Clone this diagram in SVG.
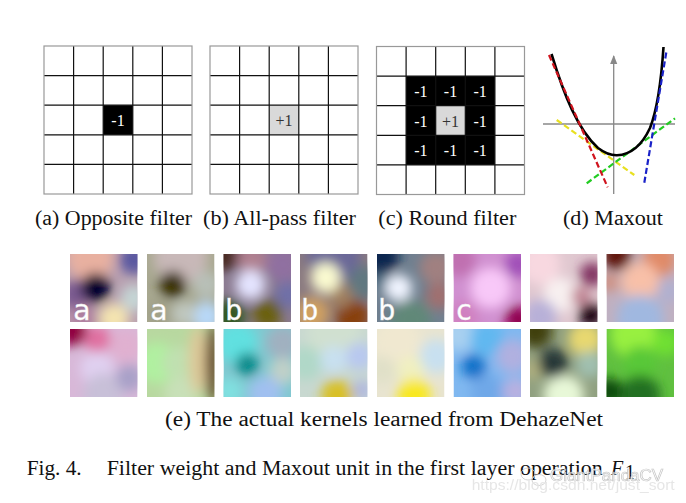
<svg xmlns="http://www.w3.org/2000/svg" xmlns:xlink="http://www.w3.org/1999/xlink" width="686" height="503" viewBox="0 0 686 503">
<style>
.cap{font-family:"Liberation Serif","Times New Roman",serif;font-size:20px;fill:#111}
.cell{font-family:"Liberation Serif","Times New Roman",serif;font-size:16px;text-anchor:middle}
.w{fill:#fff}
.k{fill:#333}
.gl{stroke:#111;stroke-width:1.2;fill:none}
.gb{stroke:#999;stroke-width:1.2;fill:none}
.ax{stroke:#888;stroke-width:1.3;fill:none}
.ds{fill:none;stroke-width:2.2;stroke-dasharray:6 3}
.lt{font-family:"DejaVu Sans Mono",monospace;font-size:29px;fill:#fff;stroke:#e8e8e8;stroke-width:0.3}
.wm{font-family:"Liberation Sans",Arial,sans-serif;fill:#fff;stroke:#bbb;stroke-width:0.7}
</style>
<defs>
<filter id="bl" filterUnits="userSpaceOnUse" x="-60" y="-60" width="220" height="220"><feGaussianBlur stdDeviation="8.5"/></filter>
<g id="grid">
<path class="gl" d="M29.6 0V148M59.2 0V148M88.8 0V148M118.4 0V148M0 29.6H148M0 59.2H148M0 88.8H148M0 118.4H148"/>
<rect class="gb" x="0" y="0" width="148" height="148"/>
</g>
<marker id="ar" viewBox="0 0 10 10" refX="9" refY="5" markerWidth="7" markerHeight="7" orient="auto"><path d="M0 1L10 5L0 9z" fill="#888"/></marker>
</defs>
<rect width="686" height="503" fill="#fff"/>

<g id="opposite-filter" transform="translate(44,46)">
<rect x="0" y="0" width="148" height="148" fill="#fff"/>
<rect x="59.2" y="59.2" width="29.6" height="29.6" fill="#000"/>
<use href="#grid"/>
<text class="cell w" x="74" y="80">-1</text>
</g>

<g id="allpass-filter" transform="translate(210,46)">
<rect x="0" y="0" width="148" height="148" fill="#fff"/>
<rect x="59.2" y="59.2" width="29.6" height="29.6" fill="#d9d9d9"/>
<use href="#grid"/>
<text class="cell k" x="74" y="80">+1</text>
</g>

<g id="round-filter" transform="translate(376.5,46.5)">
<rect x="0" y="0" width="148" height="148" fill="#fff"/>
<rect x="29.6" y="29.6" width="88.8" height="88.8" fill="#000"/>
<rect x="59.2" y="59.2" width="29.6" height="29.6" fill="#d9d9d9"/>
<use href="#grid"/>
<text class="cell w" x="44.4" y="50.5">-1</text>
<text class="cell w" x="74" y="50.5">-1</text>
<text class="cell w" x="103.6" y="50.5">-1</text>
<text class="cell w" x="44.4" y="80">-1</text>
<text class="cell k" x="74" y="80">+1</text>
<text class="cell w" x="103.6" y="80">-1</text>
<text class="cell w" x="44.4" y="109.5">-1</text>
<text class="cell w" x="74" y="109.5">-1</text>
<text class="cell w" x="103.6" y="109.5">-1</text>
</g>

<g id="maxout">
<line class="ax" x1="543" y1="124" x2="675" y2="124"/>
<line class="ax" x1="613.7" y1="194" x2="613.7" y2="56" marker-end="url(#ar)"/>
<line class="ds" stroke="#e8e020" x1="556.7" y1="120" x2="634.3" y2="175"/>
<line class="ds" stroke="#22cc22" x1="586.7" y1="183.3" x2="675" y2="118.3"/>
<path d="M551.5 54 C564 95 578 130 598 148 C606 154 611 155.5 617 155.3 C633 154.5 643 143 650 128 C657 110 661 85 663.5 47" fill="none" stroke="#000" stroke-width="2.6"/>
<line class="ds" stroke="#d0141e" x1="549" y1="55" x2="607.7" y2="187.3"/>
<line class="ds" stroke="#1a22c8" x1="644.3" y1="182.7" x2="666.7" y2="50"/>
</g>

<g id="captions-top">
<text class="cap" x="35" y="225" textLength="157" lengthAdjust="spacingAndGlyphs">(a) Opposite filter</text>
<text class="cap" x="203" y="225" textLength="153" lengthAdjust="spacingAndGlyphs">(b) All-pass filter</text>
<text class="cap" x="378.3" y="225" textLength="138" lengthAdjust="spacingAndGlyphs">(c) Round filter</text>
<text class="cap" x="563" y="225" textLength="100" lengthAdjust="spacingAndGlyphs">(d) Maxout</text>
</g>

<g id="kernels">
<svg x="70" y="254" width="67.5" height="68" viewBox="0 0 100 100" preserveAspectRatio="none">
<rect width="100" height="100" fill="#b9a0b0"/>
<g filter="url(#bl)">
<circle cx="30" cy="5" r="35" fill="#e8b0a0"/><circle cx="95" cy="8" r="22" fill="#5a58a0"/>
<circle cx="8" cy="60" r="22" fill="#7a5a90"/><circle cx="65" cy="95" r="22" fill="#f4e4b0"/>
<circle cx="95" cy="65" r="20" fill="#c4d4d4"/><circle cx="20" cy="95" r="20" fill="#b080a0"/>
<circle cx="38" cy="50" r="22" fill="#06062e"/>
</g></svg>
<svg x="147" y="254" width="67.5" height="68" viewBox="0 0 100 100" preserveAspectRatio="none">
<rect width="100" height="100" fill="#a8a890"/>
<g filter="url(#bl)">
<circle cx="50" cy="5" r="40" fill="#c8b8b8"/><circle cx="88" cy="45" r="20" fill="#b8c0b8"/>
<circle cx="88" cy="92" r="22" fill="#b8d8f8"/><circle cx="18" cy="88" r="20" fill="#a0a088"/>
<circle cx="55" cy="88" r="18" fill="#c0c8c0"/><circle cx="38" cy="45" r="20" fill="#3a3206"/>
</g></svg>
<svg x="223.5" y="254" width="67.5" height="68" viewBox="0 0 100 100" preserveAspectRatio="none">
<rect width="100" height="100" fill="#8a7a90"/>
<g filter="url(#bl)">
<circle cx="3" cy="3" r="22" fill="#4a2a20"/><circle cx="42" cy="8" r="22" fill="#b08090"/>
<circle cx="88" cy="15" r="25" fill="#9070a0"/><circle cx="8" cy="92" r="25" fill="#305820"/>
<circle cx="65" cy="88" r="22" fill="#6a6010"/><circle cx="96" cy="60" r="20" fill="#7070a8"/>
<circle cx="40" cy="45" r="22" fill="#e4e4ff"/>
</g></svg>
<svg x="300" y="254" width="67.5" height="68" viewBox="0 0 100 100" preserveAspectRatio="none">
<rect width="100" height="100" fill="#8a7a80"/>
<g filter="url(#bl)">
<circle cx="50" cy="2" r="40" fill="#6a6898"/><circle cx="96" cy="42" r="25" fill="#607880"/>
<circle cx="18" cy="88" r="25" fill="#d0a060"/><circle cx="78" cy="92" r="25" fill="#884010"/>
<circle cx="60" cy="62" r="18" fill="#a08060"/><circle cx="38" cy="35" r="22" fill="#fafad0"/>
</g></svg>
<svg x="377" y="254" width="67.5" height="68" viewBox="0 0 100 100" preserveAspectRatio="none">
<rect width="100" height="100" fill="#708090"/>
<g filter="url(#bl)">
<circle cx="3" cy="3" r="30" fill="#102850"/><circle cx="88" cy="20" r="25" fill="#a08080"/>
<circle cx="92" cy="62" r="20" fill="#a07070"/><circle cx="50" cy="98" r="30" fill="#608878"/>
<circle cx="8" cy="42" r="16" fill="#4a6a80"/><circle cx="32" cy="50" r="20" fill="#f0f4ff"/>
</g></svg>
<svg x="453.5" y="254" width="67.5" height="68" viewBox="0 0 100 100" preserveAspectRatio="none">
<rect width="100" height="100" fill="#d090d0"/>
<g filter="url(#bl)">
<circle cx="8" cy="8" r="25" fill="#c070b0"/><circle cx="96" cy="15" r="20" fill="#a050b8"/>
<circle cx="15" cy="92" r="22" fill="#d080c0"/><circle cx="55" cy="50" r="30" fill="#f8c8f8"/>
<circle cx="96" cy="96" r="20" fill="#900050"/>
</g></svg>
<svg x="530" y="254" width="67.5" height="68" viewBox="0 0 100 100" preserveAspectRatio="none">
<rect width="100" height="100" fill="#e0c8d0"/>
<g filter="url(#bl)">
<circle cx="15" cy="15" r="30" fill="#f8d8e0"/><circle cx="45" cy="60" r="25" fill="#f8f0f0"/>
<circle cx="92" cy="30" r="18" fill="#803060"/><circle cx="15" cy="92" r="25" fill="#b8b0d8"/>
<circle cx="75" cy="62" r="14" fill="#c08090"/><circle cx="90" cy="90" r="18" fill="#180008"/>
</g></svg>
<svg x="606.5" y="254" width="67.5" height="68" viewBox="0 0 100 100" preserveAspectRatio="none">
<rect width="100" height="100" fill="#c0b0c0"/>
<g filter="url(#bl)">
<circle cx="78" cy="8" r="25" fill="#e08a68"/><circle cx="50" cy="40" r="28" fill="#f8c0a8"/>
<circle cx="50" cy="95" r="35" fill="#a0b8e0"/><circle cx="92" cy="55" r="18" fill="#b0b0d0"/>
<circle cx="4" cy="42" r="14" fill="#d09080"/><circle cx="15" cy="2" r="22" fill="#601808"/>
</g></svg>

<svg x="70" y="329" width="67.5" height="68" viewBox="0 0 100 100" preserveAspectRatio="none">
<rect width="100" height="100" fill="#d8b8d8"/>
<g filter="url(#bl)">
<circle cx="40" cy="15" r="20" fill="#e070a0"/><circle cx="82" cy="25" r="25" fill="#e0b0d0"/>
<circle cx="40" cy="58" r="25" fill="#e0d0f0"/><circle cx="50" cy="95" r="30" fill="#c8c0d8"/>
<circle cx="88" cy="72" r="20" fill="#a8a0c8"/><circle cx="3" cy="3" r="22" fill="#900040"/>
</g></svg>
<svg x="147" y="329" width="67.5" height="68" viewBox="0 0 100 100" preserveAspectRatio="none">
<rect width="100" height="100" fill="#b8d8a0"/>
<g filter="url(#bl)">
<circle cx="15" cy="50" r="30" fill="#b0f0a0"/><circle cx="48" cy="50" r="25" fill="#c0e0b0"/>
<circle cx="50" cy="95" r="25" fill="#c8e0b8"/><ellipse cx="75" cy="45" rx="14" ry="50" fill="#dcc898"/>
<ellipse cx="97" cy="50" rx="10" ry="60" fill="#583818"/>
</g></svg>
<svg x="223.5" y="329" width="67.5" height="68" viewBox="0 0 100 100" preserveAspectRatio="none">
<rect width="100" height="100" fill="#80c8d0"/>
<g filter="url(#bl)">
<circle cx="20" cy="20" r="30" fill="#60e0e0"/><circle cx="88" cy="20" r="25" fill="#a0b0c0"/>
<circle cx="88" cy="62" r="20" fill="#c0d0c8"/><circle cx="62" cy="95" r="25" fill="#a0c0f0"/>
<circle cx="8" cy="92" r="20" fill="#80e0e0"/><circle cx="35" cy="52" r="17" fill="#068888"/>
</g></svg>
<svg x="300" y="329" width="67.5" height="68" viewBox="0 0 100 100" preserveAspectRatio="none">
<rect width="100" height="100" fill="#c8d8d0"/>
<g filter="url(#bl)">
<circle cx="50" cy="8" r="40" fill="#d0e0d0"/><circle cx="8" cy="50" r="25" fill="#b0d8c8"/>
<circle cx="50" cy="45" r="20" fill="#c8e0f0"/><circle cx="88" cy="40" r="20" fill="#b8c8f0"/>
<circle cx="92" cy="90" r="15" fill="#b0b8e0"/><circle cx="55" cy="98" r="24" fill="#d8c028"/>
</g></svg>
<svg x="377" y="329" width="67.5" height="68" viewBox="0 0 100 100" preserveAspectRatio="none">
<rect width="100" height="100" fill="#e8e4d0"/>
<g filter="url(#bl)">
<circle cx="30" cy="20" r="35" fill="#f0e8d0"/><circle cx="88" cy="40" r="25" fill="#c8e0f0"/>
<circle cx="50" cy="60" r="20" fill="#f0f0c0"/><circle cx="8" cy="60" r="20" fill="#e0e0c8"/>
<circle cx="55" cy="98" r="25" fill="#f8e820"/>
</g></svg>
<svg x="453.5" y="329" width="67.5" height="68" viewBox="0 0 100 100" preserveAspectRatio="none">
<rect width="100" height="100" fill="#80b8f0"/>
<g filter="url(#bl)">
<circle cx="8" cy="8" r="25" fill="#a8d0f0"/><circle cx="50" cy="15" r="25" fill="#60b8f0"/>
<circle cx="88" cy="40" r="25" fill="#b0b0e0"/><circle cx="50" cy="92" r="25" fill="#70a8e8"/>
<circle cx="92" cy="92" r="20" fill="#b8b0e0"/><circle cx="30" cy="55" r="18" fill="#0870c8"/>
</g></svg>
<svg x="530" y="329" width="67.5" height="68" viewBox="0 0 100 100" preserveAspectRatio="none">
<rect width="100" height="100" fill="#90a080"/>
<g filter="url(#bl)">
<circle cx="82" cy="15" r="25" fill="#e8d870"/><circle cx="88" cy="52" r="20" fill="#a0c0b0"/>
<circle cx="50" cy="98" r="30" fill="#e8f8d8"/><circle cx="4" cy="60" r="15" fill="#b0b080"/>
<circle cx="8" cy="3" r="25" fill="#404008"/><circle cx="35" cy="50" r="22" fill="#283838"/>
</g></svg>
<svg x="606.5" y="329" width="67.5" height="68" viewBox="0 0 100 100" preserveAspectRatio="none">
<rect width="100" height="100" fill="#60c040"/>
<g filter="url(#bl)">
<circle cx="40" cy="8" r="35" fill="#98f040"/><circle cx="88" cy="20" r="20" fill="#70e030"/>
<circle cx="50" cy="50" r="25" fill="#58c838"/><circle cx="50" cy="98" r="30" fill="#207020"/>
<circle cx="4" cy="92" r="20" fill="#104a10"/>
</g></svg>

<text class="lt" x="73" y="320">a</text>
<text class="lt" x="150" y="320">a</text>
<text class="lt" x="225" y="320">b</text>
<text class="lt" x="301" y="320">b</text>
<text class="lt" x="378" y="320">b</text>
<text class="lt" x="455" y="320">c</text>
</g>

<g id="captions-bottom">
<text class="cap" x="165" y="426" textLength="438" lengthAdjust="spacingAndGlyphs">(e) The actual kernels learned from DehazeNet</text>
<text class="cap" x="26.7" y="475" textLength="55" lengthAdjust="spacingAndGlyphs">Fig. 4.</text>
<text class="cap" x="106.7" y="475" textLength="496" lengthAdjust="spacingAndGlyphs">Filter weight and Maxout unit in the first layer operation</text>
<text class="cap" x="611" y="475" font-style="italic">F</text>
<text class="cap" x="625" y="479" font-size="13">1</text>
</g>

<g id="watermark" opacity="0.85">
<ellipse cx="528" cy="474" rx="7" ry="6" fill="none" stroke="#ccc" stroke-width="1"/>
<ellipse cx="539" cy="480" rx="7" ry="5.5" fill="none" stroke="#ccc" stroke-width="1"/>
<text class="wm" x="550" y="481" font-size="16" textLength="113" lengthAdjust="spacingAndGlyphs">GiantPandaCV</text>
<text x="471.7" y="490" font-family="Liberation Sans, Arial, sans-serif" font-size="15.5" fill="#e2e2e2" textLength="203" lengthAdjust="spacingAndGlyphs">https://blog.csdn.net/just_sort</text>
</g>
</svg>
